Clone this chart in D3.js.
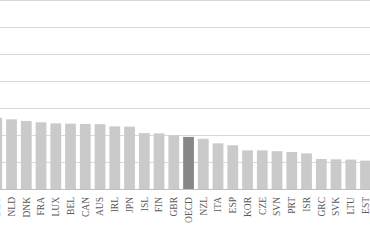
<!DOCTYPE html>
<html><head><meta charset="utf-8">
<script src="https://cdn.jsdelivr.net/npm/d3@7"></script>
<style>html,body{margin:0;padding:0;background:#fff;overflow:hidden}</style>
</head><body>
<svg id="c" width="370" height="247"></svg>
<script>
const categories = ["DEU","NLD","DNK","FRA","LUX","BEL","CAN","AUS","IRL","JPN","ISL","FIN","GBR","OECD","NZL","ITA","ESP","KOR","CZE","SVN","PRT","ISR","GRC","SVK","LTU","EST"];
const values = [26.4,25.8,25.2,24.7,24.3,24.2,24.1,24.0,23.2,23.1,20.7,20.6,19.9,19.3,18.6,16.9,16.2,14.3,14.3,14.0,13.7,13.2,11.1,11.0,10.9,10.5];
const highlight = "OECD";
const yTicks = [0,10,20,30,40,50,60,70];

const svg = d3.select("#c");
const step = 14.75;
const x0 = -8.6 - step*0.135;
const x = d3.scaleBand().domain(categories)
  .range([x0, x0 + step*categories.length]).paddingInner(0.27).paddingOuter(0.135);
const y = d3.scaleLinear().domain([0,70]).range([189,0]);

svg.append("g").selectAll("line").data(yTicks.filter(t=>t>0)).join("line")
  .attr("x1",0).attr("x2",370).attr("y1",d=>y(d)+0.5).attr("y2",d=>y(d)+0.5)
  .attr("stroke","#d9d9d9").attr("stroke-width",1);

svg.append("g").selectAll("rect").data(categories).join("rect")
  .attr("x",d=>x(d)).attr("width",x.bandwidth())
  .attr("y",(d,i)=>y(values[i])).attr("height",(d,i)=>y(0)-y(values[i]))
  .attr("fill",d=>d===highlight?"#878787":"#cacaca");

svg.append("line").attr("x1",0).attr("x2",370).attr("y1",y(0)+0.5).attr("y2",y(0)+0.5)
  .attr("stroke","#bfbfbf").attr("stroke-width",1);

const ax = svg.append("g").attr("transform",`translate(0,${y(0)})`)
  .call(d3.axisBottom(x).tickSize(0).tickPadding(0));
ax.select(".domain").remove();
ax.selectAll("text")
  .attr("transform","translate(0,8) rotate(-90)")
  .attr("text-anchor","end").attr("dy","0.35em").attr("y",0).attr("x",0)
  .attr("fill","#595959")
  .style("font-family","'Liberation Serif','Times New Roman',serif")
  .style("font-size","9.5px");
</script>
</body></html>
